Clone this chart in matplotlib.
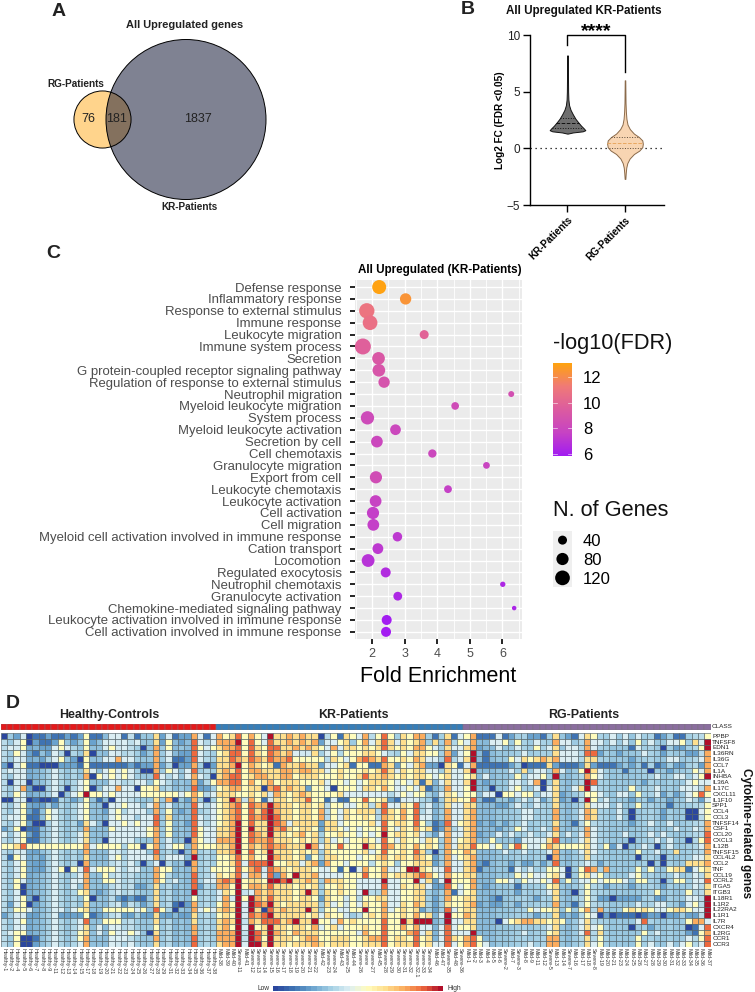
import matplotlib
matplotlib.use("Agg")
import matplotlib.pyplot as plt
import numpy as np
from matplotlib.colors import LinearSegmentedColormap, Normalize
from matplotlib.patches import Circle

plt.rcParams["font.family"] = ["Liberation Sans", "DejaVu Sans"]

W, H = 755, 992

# panel A
venn_only_rg = 76
venn_shared = 181
venn_only_kr = 1837

# panel B
kr_levels = [1.3, 1.4, 1.5, 1.6, 1.75, 2.0, 2.3, 2.6, 3.0, 3.4, 3.8, 4.3, 5.0, 5.8, 7.0, 8.2]
kr_density = [0.02, 0.3, 0.85, 1.0, 0.92, 0.76, 0.6, 0.45, 0.3, 0.17, 0.09, 0.05, 0.035, 0.03, 0.02, 0.015]
kr_quartiles = [1.8, 2.2, 2.65]
rg_levels = [-2.7, -2.2, -1.7, -1.3, -0.9, -0.5, -0.2, 0.1, 0.4, 0.7, 1.0, 1.3, 1.7, 2.1, 2.6, 3.2, 4.0, 6.0]
rg_density = [0.02, 0.04, 0.07, 0.13, 0.26, 0.5, 0.8, 0.97, 1.0, 0.97, 0.78, 0.5, 0.27, 0.14, 0.08, 0.05, 0.03, 0.015]
rg_quartiles = [0.0, 0.5, 1.0]

# panel C
terms = [
    "Defense response", "Inflammatory response", "Response to external stimulus",
    "Immune response", "Leukocyte migration", "Immune system process", "Secretion",
    "G protein-coupled receptor signaling pathway", "Regulation of response to external stimulus",
    "Neutrophil migration", "Myeloid leukocyte migration", "System process",
    "Myeloid leukocyte activation", "Secretion by cell", "Cell chemotaxis",
    "Granulocyte migration", "Export from cell", "Leukocyte chemotaxis",
    "Leukocyte activation", "Cell activation", "Cell migration",
    "Myeloid cell activation involved in immune response", "Cation transport", "Locomotion",
    "Regulated exocytosis", "Neutrophil chemotaxis", "Granulocyte activation",
    "Chemokine-mediated signaling pathway", "Leukocyte activation involved in immune response",
    "Cell activation involved in immune response",
]
fold_enrichment = [2.22, 3.03, 1.84, 1.94, 3.60, 1.72, 2.20, 2.21, 2.37, 6.27, 4.55, 1.86, 2.72, 2.15, 3.85,
                   5.51, 2.12, 4.33, 2.11, 2.03, 2.04, 2.78, 2.18, 1.88, 2.42, 6.01, 2.79, 6.36, 2.45, 2.43]
log_fdr = [13.0, 12.4, 10.9, 10.7, 9.9, 9.7, 9.2, 9.0, 8.9, 8.6, 8.3, 8.2, 8.0, 8.0, 8.0,
           7.8, 8.4, 7.6, 7.7, 7.5, 7.5, 7.2, 7.2, 6.9, 6.6, 6.4, 6.4, 6.3, 5.9, 5.9]
n_genes = [108, 68, 131, 120, 40, 143, 87, 87, 68, 13, 27, 97, 60, 73, 33,
           19, 80, 28, 74, 80, 74, 45, 61, 89, 51, 9, 38, 4, 51, 51]
fdr_ticks = [6, 8, 10, 12]
size_ticks = [40, 80, 120]

# panel D
genes = ["PPBP", "TNFSF8", "EDN1", "IL36RN", "IL36G", "CCL7", "IL1A", "INHBA", "IL36A", "IL17C",
         "CXCL11", "IL1F10", "SPP1", "CCL4", "CCL3", "TNFSF14", "CSF1", "CCL20", "CXCL3", "IL12B",
         "TNFSF15", "CCL4L2", "CCL2", "TNF", "CCL19", "CCRL2", "ITGA5", "ITGB3", "IL18R1", "IL1R2",
         "IL22RA2", "IL1R1", "IL7R", "CXCR4", "IL2RG", "CCR1", "CCR3"]
healthy_ids = [1, 2, 4, 5, 6, 7, 8, 9, 11, 12, 13, 14, 15, 17, 18, 19, 20, 21, 22, 23, 24, 25, 26,
               27, 28, 29, 31, 32, 33, 34, 35, 36, 37, 38]
kr_samples = ["Mild-38", "Mild-39", "Mild-40", "Severe-11", "Mild-41", "Severe-12", "Severe-13",
              "Severe-14", "Severe-15", "Severe-16", "Severe-17", "Severe-18", "Severe-19", "Severe-20",
              "Severe-21", "Severe-22", "Mild-42", "Severe-23", "Severe-24", "Mild-43", "Severe-25",
              "Mild-44", "Severe-26", "Severe", "Severe-27", "Mild-45", "Severe-28", "Severe-29",
              "Severe-30", "Severe-31", "Severe-32", "Severe-32.1", "Severe-33", "Severe-34", "Mild-46",
              "Mild-47", "Severe-35", "Mild-48", "Severe-36"]
rg_samples = ["Mild-1", "Mild-2", "Mild-3", "Mild-4", "Mild-5", "Mild-6", "Severe-2", "Mild-7", "Severe-3",
              "Mild-8", "Mild-9", "Mild-11", "Mild-12", "Severe-5", "Mild-13", "Mild-14", "Severe-7",
              "Mild-16", "Mild-17", "Mild-18", "Severe-8", "Mild-19", "Mild-20", "Mild-21", "Mild-23",
              "Mild-24", "Mild-25", "Mild-26", "Mild-27", "Mild-28", "Mild-29", "Mild-30", "Mild-31",
              "Mild-32", "Mild-33", "Mild-34", "Mild-35", "Mild-36", "Mild-37"]
# expression per gene, 0 (low) to 9 (high), blocks of ten columns
heat_rows = [
    "0323011211 2125113441 3133624122 7414756857 5496676766 0351654735 8536577313 6145711141 2332213632 1465334343 4331231133 35",
    "3335021125 3235234434 3433625323 8434777958 5486676767 2445635746 8646567363 7354733445 3533433744 3374434343 5343344536 49",
    "3435332235 4335334534 3303735333 8545677858 6588667676 5474665656 8656577543 6446723343 3433534634 4374333331 4333032233 59",
    "3353213233 0336033433 3323734322 8433568858 6587674336 3453555665 4335466553 7245931333 3343333644 4388233233 3433233322 37",
    "3343332335 3205334474 4333734112 8433668768 7687785555 5365457876 8556576443 8346931333 5465676744 4366333332 3333344333 47",
    "2035110002 2215111111 2122723022 7302667957 6561766766 2445615511 7625467220 6514711111 2301116211 1262111232 3131232233 27",
    "3434333333 3336434545 4300735434 8333676857 7666776776 6456555656 8646566443 6446933333 4363443743 3596433313 3303323335 47",
    "3344333333 3337054545 4333843434 7430678856 7766775666 5556556866 7656566545 6445634333 3534453933 3375433333 3334334434 59",
    "3033033333 3345333433 3443543333 7235778857 5675666555 6455454566 6545461634 6446932333 4434703633 3398333333 3233333345 44",
    "3337200333 0345034474 4055633333 8223567756 6078676625 5405554665 7544546133 7445933033 4533404633 4694333335 3334333444 37",
    "3354333330 3459554544 4455555545 7534666556 5637656765 5556444444 4345455334 6545534405 5455344623 3355433443 5334232345 85",
    "0034010013 3235313044 3333637032 7303569737 5136656685 5141155855 6214443313 6655831133 2343423623 0395343332 3323323343 24",
    "3335322323 3345330445 4434734333 8434567858 7797665665 6355445636 8446583433 6446633322 3433433633 3364443433 5333313333 35",
    "3345213533 3345332453 4443735323 8334567858 6897665665 7354656663 8657583433 7446733333 3344333733 3476333430 3333233300 45",
    "3445113533 3345333454 4344836333 8434567858 7898665665 7354655653 7657584433 7446733333 3344333733 3476333430 3333233300 35",
    "3345200333 3326430445 4544835332 8434567958 6698746666 2664555564 8566585312 8456723232 3343333633 1353333332 3343343333 37",
    "2350113333 3337333544 4445735333 8544667959 6697865665 2665454555 8546575612 7346733323 3543343733 3374333333 3333334334 37",
    "4345213333 3346333444 4445735333 8544667958 7696656756 3556554545 9566564324 7446723343 4334334634 3474333343 3343433333 38",
    "3345113333 3346330444 4333734330 7544777958 7786665656 3645455654 8546554653 7456733533 3244446833 3464333330 3334343303 58",
    "5568555555 5557455553 5505734553 7555667957 6787766697 4658555965 8756575653 7466855453 5854457655 5564352403 3430343333 47",
    "3333323333 3337333433 4443833303 7333667958 5696665656 3655555645 8556586303 7557633334 3343334733 3464333333 5334336333 37",
    "3154332333 3336333453 4444734443 9333556857 5597665625 3665554556 7566576523 7456733333 3333330733 3363333333 0333033334 46",
    "3345322333 3307333333 4303403330 7333556848 8895566467 2755455535 6535566623 7446721333 2322323833 3343233333 3303033366 67",
    "3335322335 0548455543 4433755333 7335555857 8387656665 4451504755 7445996544 8446713333 1434335540 3587373333 5353356614 56",
    "3335333333 3347335333 3333753333 8334656847 7482759667 4444555855 7566678754 7556633333 3545445640 3564533334 5333334334 36",
    "3353333333 3447335543 3333753433 8344787956 6599896676 3766554444 9445594624 9555733355 4354454835 3445455543 5533035534 48",
    "3350333333 3437333333 3223633333 8233775957 7686665656 3556554444 8446566422 8545732333 3133335633 3353323332 3333233334 36",
    "3340333333 3356323333 3333633333 9333465934 7676665696 3656554933 7445566333 7145633333 3233334633 0353333333 3335333353 36",
    "3345303333 3335033321 2113633333 5333473959 7686665665 2655353556 6445566323 7556633213 3333233633 3353220222 2332233344 39",
    "3245023333 3336333332 3323633102 7333575949 8796566666 3645354655 7446576323 6556723223 3233333733 1353333333 4334433245 39",
    "3355433334 3456335555 5453853033 7454676949 6086766696 3554455955 7456562323 8456633333 3335455635 3573733356 5654456654 49",
    "2333223332 2225123332 2322622322 6333565948 7896666656 4655333565 7556575634 9557633333 3333233623 2354020111 0122022322 39",
    "3345333333 3348335553 3333633333 6333676937 6888679669 5547565555 8559699933 9446633304 5677665653 3463333333 4833333357 74",
    "3344333333 3346343443 3333533333 7333675949 5696656657 4564555655 8557574434 8455633333 3333334633 3464533330 3323333301 48",
    "3455333333 3356343544 5430633333 7333777939 8697657666 5555554755 8555784634 8444933333 3343335633 3483633333 3534333321 57",
    "3350013333 3357333444 3333733333 8333777939 8596665677 5566655677 8566585634 8657853333 3333337733 3363533333 5333333343 58",
    "3350023333 3347333433 4333633333 8333677949 9696656667 6566655666 8566685644 8457854333 3334337733 3364533333 5343343453 48",
]
# usual tone of the pale cells (those marked 3 above), read column by column
pale_tone = [3.4, 2.9, 3.9, 3.9, 2.2, 2.4, 2.7, 3.1, 4.0, 3.2,
             2.8, 3.2, 2.8, 3.8, 2.7, 2.7, 2.6, 3.4, 3.8, 3.2,
             3.5, 3.0, 2.8, 2.8, 3.8, 2.9, 3.3, 2.5, 2.8, 2.6,
             3.8, 3.0, 3.3, 3.0, 3.8, 3.8, 3.8, 3.8, 3.6, 3.8,
             3.8, 3.8, 3.8, 3.8, 3.8, 3.8, 3.8, 3.8, 3.8, 3.8,
             3.0, 3.4, 3.8, 3.2, 3.8, 2.9, 3.4, 3.8, 3.4, 3.3,
             3.8, 3.3, 3.0, 3.8, 3.8, 3.8, 3.2, 3.0, 2.4, 3.0,
             3.8, 3.2, 3.3, 3.8, 3.8, 2.6, 2.5, 2.6, 2.8, 2.8,
             2.9, 3.0, 3.1, 2.9, 3.0, 3.1, 3.0, 3.8, 2.8, 2.6,
             2.9, 3.3, 3.8, 3.3, 3.1, 3.0, 2.8, 2.9, 2.8, 2.8,
             2.9, 3.0, 3.1, 2.9, 2.8, 3.0, 2.8, 2.9, 3.0, 3.3,
             3.4, 3.8]
heat_colors = ["#2B479E", "#3F74B3", "#6BA3CE", "#A3CFE4", "#DCEEF3",
               "#FFFCBE", "#FEDF8E", "#FBAE5F", "#EE6A3E", "#B10F2A"]


def px_axes(fig, x0, y0, x1, y1):
    return fig.add_axes([x0 / W, 1 - y1 / H, (x1 - x0) / W, (y1 - y0) / H])


def draw_venn(bg):
    big_total = venn_only_kr + venn_shared
    small_total = venn_only_rg + venn_shared
    scale = 80 / np.sqrt(big_total)
    big = Circle((186, 119.5), scale * np.sqrt(big_total), fc="#7F8292", ec="none", zorder=2)
    small = Circle((102.5, 119.5), scale * np.sqrt(small_total), fc="#FFD48C", ec="none", zorder=1)
    bg.add_patch(small)
    bg.add_patch(big)
    shared = Circle(small.center, small.radius, fc="#84715E", ec="none", zorder=3)
    bg.add_patch(shared)
    shared.set_clip_path(big)
    bg.add_patch(Circle(small.center, small.radius, fc="none", ec="black", lw=0.7, zorder=4))
    bg.add_patch(Circle(big.center, big.radius, fc="none", ec="black", lw=0.7, zorder=4))
    for val, x in zip([venn_only_rg, venn_shared, venn_only_kr], [88.7, 116.7, 197.7]):
        bg.text(x, 119.5, str(val), ha="center", va="center", fontsize=9, zorder=5, color="#222222")
    bg.text(185, 25, "All Upregulated genes", ha="center", va="center", fontsize=7.9, weight="bold", color="#222222")
    bg.text(75.7, 84, "RG-Patients", ha="center", va="center", fontsize=7.2, weight="bold", color="#222222")
    bg.text(189.7, 207, "KR-Patients", ha="center", va="center", fontsize=7.2, weight="bold", color="#222222")


def draw_violin(fig):
    ax = px_axes(fig, 530, 35, 664, 205)
    ax.set_xlim(0.348, 2.678)
    ax.set_ylim(-5, 10)
    half = 0.31
    specs = [
        (1, kr_levels, kr_density, kr_quartiles, "#6E6E6E", "#111111", ["#111111"] * 3),
        (2, rg_levels, rg_density, rg_quartiles, "#F8D5B2", "#8A6A4A", ["#5A4A3A", "#E9A860", "#5A4A3A"]),
    ]
    for pos, lev, dens, quart, fill, edge, qcols in specs:
        widths = np.array(dens) * half
        ax.fill_betweenx(lev, pos - widths, pos + widths, fc=fill, ec=edge, lw=0.7, zorder=3)
        for q, col, ls in zip(quart, qcols, [":", "--", ":"]):
            w = np.interp(q, lev, widths)
            ax.plot([pos - w, pos + w], [q, q], color=col, lw=0.7, ls=ls, zorder=4)
    ax.axhline(0, color="black", lw=0.9, ls=(0, (1, 3)), zorder=2)
    ax.plot([1, 1, 2, 2], [9.1, 10, 10, 6.7], color="black", lw=1.0, clip_on=False, zorder=5)
    ax.text(1.5, 10.3, "****", ha="center", va="center", fontsize=14, weight="bold")
    for side in ["top", "right"]:
        ax.spines[side].set_visible(False)
    ax.spines["left"].set_linewidth(1.0)
    ax.spines["bottom"].set_linewidth(1.0)
    ax.set_yticks([-5, 0, 5, 10])
    ax.set_xticks([1, 2])
    ax.set_xticklabels(["KR-Patients", "RG-Patients"], rotation=45, ha="right", rotation_mode="anchor",
                       fontsize=7.2, weight="bold")
    ax.tick_params(axis="y", labelsize=8.5, length=5, width=1.0, pad=2, labelcolor="#222222")
    ax.tick_params(axis="x", length=5, width=1.0, pad=2)
    ax.set_ylabel("Log2 FC (FDR <0.05)", fontsize=7.2, weight="bold", labelpad=1)


def dot_area(n):
    # dot area grows with the gene count, as in the size legend
    return (13.5 + 1.69 * np.asarray(n, dtype=float)) * 0.5184


def draw_dots(fig, bg):
    fdr_cmap = LinearSegmentedColormap.from_list(
        "fdr", ["#A21CF2", "#C743C4", "#DC5CA0", "#F07A78", "#FFA30F"])
    norm = Normalize(5.85, 13.08)
    ax = px_axes(fig, 355, 279.9, 522, 639)
    ax.set_facecolor("#EBEBEB")
    ax.set_xlim(1.478, 6.6)
    ax.set_ylim(29.6, -0.6)
    ax.scatter(fold_enrichment, range(len(terms)), s=dot_area(n_genes), c=log_fdr, cmap=fdr_cmap, norm=norm,
               linewidths=0, zorder=3)
    ax.set_axisbelow(True)
    ax.set_xticks([2, 3, 4, 5, 6])
    ax.set_xticks([1.5, 2.5, 3.5, 4.5, 5.5, 6.5], minor=True)
    ax.set_yticks(range(len(terms)))
    ax.set_yticklabels(terms)
    ax.grid(True, which="major", color="white", lw=1.0)
    ax.grid(True, which="minor", axis="x", color="white", lw=0.6)
    for spine in ax.spines.values():
        spine.set_visible(False)
    ax.tick_params(axis="y", labelsize=9.45, labelcolor="#4D4D4D", length=3.6, width=1.2, pad=6)
    ax.tick_params(axis="x", labelsize=9, labelcolor="#4D4D4D", length=3.6, width=1.2, pad=3)
    ax.tick_params(axis="x", which="minor", length=0)
    bg.text(440, 270, "All Upregulated (KR-Patients)", ha="center", va="center", fontsize=8.4, weight="bold")
    bg.text(438, 677, "Fold Enrichment", ha="center", va="center", fontsize=15.5)

    # colour legend
    bg.text(553, 343, "-log10(FDR)", ha="left", va="center", fontsize=15.7, color="#111111")
    cax = px_axes(fig, 553, 363, 572, 456)
    grad = np.linspace(13.08, 5.85, 200).reshape(-1, 1)
    cax.imshow(grad, aspect="auto", cmap=fdr_cmap, norm=norm, extent=[0, 1, 5.85, 13.08])
    cax.set_xticks([])
    cax.set_yticks(fdr_ticks)
    cax.yaxis.tick_right()
    cax.tick_params(axis="y", length=0, labelsize=12, pad=8)
    for t in fdr_ticks:
        cax.plot([0, 0.2], [t, t], color="white", lw=0.5, alpha=0.8)
        cax.plot([0.8, 1], [t, t], color="white", lw=0.5, alpha=0.8)
    cax.set_xlim(0, 1)
    cax.set_ylim(5.85, 13.08)
    for spine in cax.spines.values():
        spine.set_visible(False)

    # size legend
    bg.text(553, 510, "N. of Genes", ha="left", va="center", fontsize=15.7, color="#111111")
    sax = px_axes(fig, 553, 530.7, 572, 587.3)
    sax.set_facecolor("#EFEFEF")
    sax.set_xlim(0, 1)
    sax.set_ylim(2.5, -0.5)
    sax.scatter([0.5] * len(size_ticks), range(len(size_ticks)), s=dot_area(size_ticks), color="black", linewidths=0)
    sax.set_xticks([])
    sax.set_yticks(range(len(size_ticks)))
    sax.set_yticklabels([str(v) for v in size_ticks])
    sax.yaxis.tick_right()
    sax.tick_params(axis="y", length=0, labelsize=12, pad=8)
    for spine in sax.spines.values():
        spine.set_visible(False)


def draw_heatmap(fig, bg):
    rows = []
    for i, row in enumerate(heat_rows):
        digits = row.replace(" ", "")
        if len(digits) != 112:
            raise ValueError(f"row {i} has {len(digits)} cells")
        rows.append([int(d) for d in digits])
    matrix = np.array(rows, dtype=float)
    matrix = np.where(matrix == 3, np.array(pale_tone), matrix)
    samples = [f"Healthy-{i}" for i in healthy_ids] + kr_samples + rg_samples
    heat_cmap = LinearSegmentedColormap.from_list("heat", heat_colors)

    ax = px_axes(fig, 0.5, 733, 710.8, 947)
    ax.pcolormesh(matrix, cmap=heat_cmap, vmin=0, vmax=9, edgecolors="#4E5E64", linewidth=0.42, antialiased=True)
    ax.set_ylim(len(genes), 0)
    ax.set_xlim(0, len(samples))
    ax.set_xticks(np.arange(len(samples)) + 0.5)
    ax.set_xticklabels(samples, rotation=-90, ha="center", va="top")
    ax.set_yticks(np.arange(len(genes)) + 0.5)
    ax.set_yticklabels(genes)
    ax.yaxis.tick_right()
    ax.tick_params(axis="x", length=0, labelsize=3.9, pad=1, labelcolor="#333333")
    ax.tick_params(axis="y", length=0, labelsize=4.6, pad=1, labelcolor="#222222")
    for spine in ax.spines.values():
        spine.set_visible(False)

    class_codes = [0] * len(healthy_ids) + [1] * len(kr_samples) + [2] * len(rg_samples)
    bar = px_axes(fig, 0.5, 724, 710.8, 730.3)
    bar.pcolormesh(np.array([class_codes]), cmap=LinearSegmentedColormap.from_list(
        "cls", ["#E41A1C", "#377EB8", "#8A6E9E"]), vmin=0, vmax=2, edgecolors="#777777", linewidth=0.3,
        antialiased=True)
    bar.axis("off")

    bg.text(109, 715, "Healthy-Controls", ha="center", va="center", fontsize=8.9, weight="bold", color="#222222")
    bg.text(353.7, 715, "KR-Patients", ha="center", va="center", fontsize=8.9, weight="bold", color="#222222")
    bg.text(584, 715, "RG-Patients", ha="center", va="center", fontsize=8.9, weight="bold", color="#222222")
    bg.text(712, 727, "CLASS", ha="left", va="center", fontsize=4.6, color="#222222")
    bg.text(746, 833, "Cytokine-related genes", rotation=-90, ha="center", va="center", fontsize=8.5,
            weight="bold", color="#111111")

    key = px_axes(fig, 273, 986.3, 443, 991.3)
    key.pcolormesh(np.arange(31).reshape(1, -1), cmap=heat_cmap, vmin=0, vmax=30)
    key.axis("off")
    bg.text(263, 988.5, "Low", ha="center", va="center", fontsize=4.8, color="#333333")
    bg.text(454, 988.5, "High", ha="center", va="center", fontsize=4.8, color="#333333")


def main():
    fig = plt.figure(figsize=(W / 100, H / 100), dpi=100)
    bg = fig.add_axes([0, 0, 1, 1])
    bg.set_xlim(0, W)
    bg.set_ylim(H, 0)
    bg.axis("off")

    for letter, x, y in [("A", 59, 11.5), ("B", 468, 10), ("C", 53, 254), ("D", 12.5, 704)]:
        bg.text(x, y, letter, ha="center", va="center", fontsize=14, weight="bold", color="#222222")

    draw_venn(bg)
    bg.text(583.7, 11, "All Upregulated KR-Patients", ha="center", va="center", fontsize=8.4, weight="bold", color="#111111")
    draw_violin(fig)
    draw_dots(fig, bg)
    draw_heatmap(fig, bg)

    fig.savefig("out.png", dpi=100)


if __name__ == "__main__":
    main()
